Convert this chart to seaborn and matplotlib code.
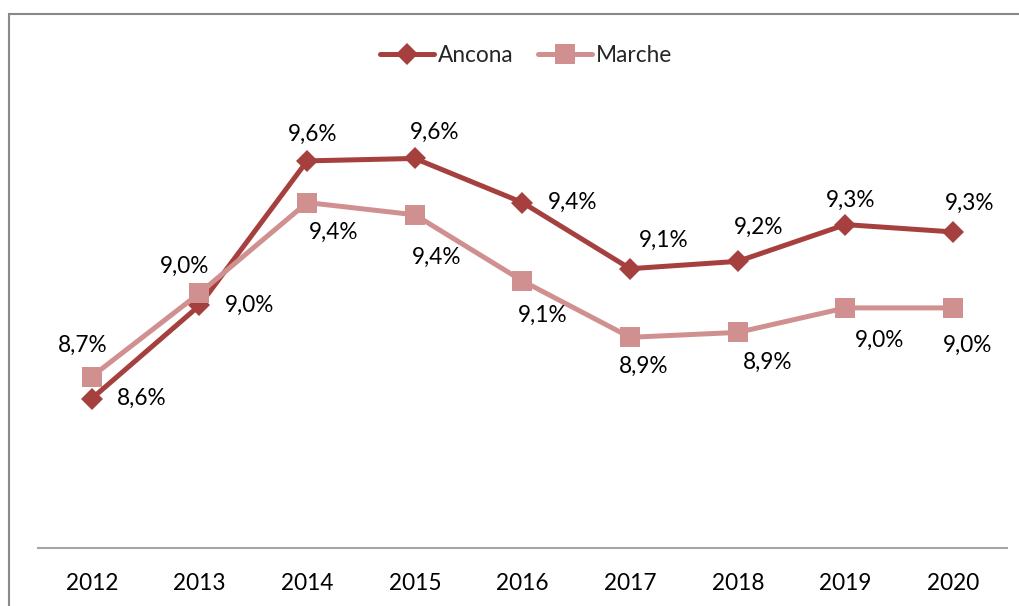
import matplotlib
matplotlib.use("Agg")
import matplotlib.pyplot as plt
from matplotlib.patches import Rectangle
import pandas as pd
import seaborn as sns

anni = ["2012", "2013", "2014", "2015", "2016", "2017", "2018", "2019", "2020"]
ancona = [8.61, 8.99, 9.58, 9.59, 9.41, 9.14, 9.17, 9.32, 9.29]
marche = [8.70, 9.04, 9.41, 9.36, 9.09, 8.86, 8.88, 8.98, 8.98]

# spostamento delle etichette (pixel) rispetto al punto
off_ancona = [(50, 0), (50, 0), (5, 27), (20, 26), (50, 0), (34, 28), (21, 34), (5, 24), (16, 29)]
off_marche = [(-9, 31), (-15, 27), (26, -30), (22, -43), (20, -34), (13, -29), (30, -30), (34, -32), (14, -37)]

colori = {"Ancona": "#A6403E", "Marche": "#D19090"}
dim_marker = {"D": 11.5, "s": 14.5}

df = pd.DataFrame({
    "anno": anni * 2,
    "valore": ancona + marche,
    "serie": ["Ancona"] * len(anni) + ["Marche"] * len(anni),
})

sns.set_style("white")
plt.rcParams["font.family"] = ["Lato", "DejaVu Sans"]

fig = plt.figure(figsize=(10.19, 6.06), dpi=100)
ax = fig.add_axes([38 / 1019, 58 / 606, 969 / 1019, 490 / 606])

sns.lineplot(
    data=df, x="anno", y="valore", hue="serie", style="serie",
    markers={"Ancona": "D", "Marche": "s"}, dashes=False,
    palette=colori, linewidth=3.6, markersize=12, markeredgewidth=0,
    ax=ax,
)
for linea in ax.lines:
    m = linea.get_marker()
    if m in dim_marker:
        linea.set_markersize(dim_marker[m])

for serie, valori, offs in (("Ancona", ancona, off_ancona), ("Marche", marche, off_marche)):
    for i, (v, (dx, dy)) in enumerate(zip(valori, offs)):
        ax.annotate(
            f"{v:.1f}%".replace(".", ","), (i, v),
            xytext=(dx, dy), textcoords="offset pixels",
            ha="center", va="center", fontsize=16.3, color="black",
        )

ax.set_xlim(-0.5, 8.5)
ax.set_ylim(8.0, 10.0)
ax.set_xlabel("")
ax.set_ylabel("")
ax.set_yticks([])
for lato in ("top", "left", "right"):
    ax.spines[lato].set_visible(False)
ax.spines["bottom"].set_color("#A6A6A6")
ax.spines["bottom"].set_linewidth(1.5)
ax.tick_params(axis="x", length=0, pad=18, labelsize=16.3, labelcolor="black")

handles, labels = ax.get_legend_handles_labels()
for h in handles:
    m = h.get_marker()
    if m in dim_marker:
        h.set_markersize(dim_marker[m])
ax.legend(
    handles, labels, loc="center", bbox_to_anchor=(526 / 1019, (606 - 55) / 606),
    bbox_transform=fig.transFigure, ncol=2, frameon=False, fontsize=16.3,
    handlelength=2.4, handletextpad=0.15, columnspacing=1.1,
)

fig.add_artist(Rectangle(
    (9 / 1019, -0.1), 1.2, (606 - 14) / 606 + 0.1,
    transform=fig.transFigure, fill=False, edgecolor="#898989", linewidth=1.5,
))

fig.savefig("out.png", dpi=100)
plt.close(fig)
